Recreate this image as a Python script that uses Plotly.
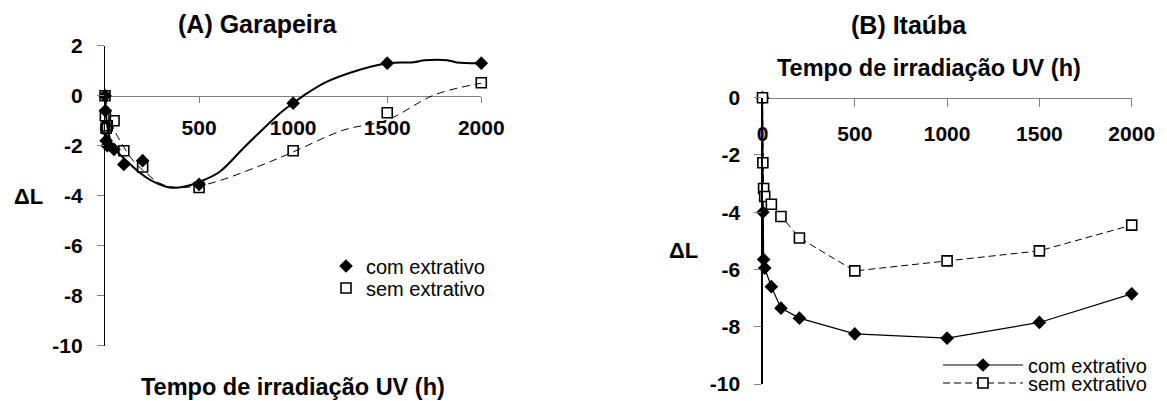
import plotly.graph_objects as go

# ---------------- data ----------------
tempo = [0, 2, 6, 12, 48, 100, 200, 500, 1000, 1500, 2000]
tick_vals = [0, 500, 1000, 1500, 2000]
tick_text = ["0", "500", "1000", "1500", "2000"]
y_ticks_a = [2, 0, -2, -4, -6, -8, -10]
y_text_a = ["2", "0", "-2", "-4", "-6", "-8", "-10"]
y_ticks_b = [0, -2, -4, -6, -8, -10]
y_text_b = ["0", "-2", "-4", "-6", "-8", "-10"]

# (A) Garapeira
gar_com = [0, -0.6, -1.8, -2.0, -2.15, -2.75, -2.6, -3.55, -0.3, 1.3, 1.3]
gar_sem = [0, -0.8, -1.3, -1.2, -1.0, -2.2, -2.85, -3.67, -2.2, -0.68, 0.52]
# smoothed trend curves
gar_com_curve_t = [0, 12, 30, 60, 100, 180, 260, 350, 430, 500, 610, 735, 825,
                   930, 1000, 1075, 1180, 1320, 1500, 1640, 1700, 1820, 1870, 2000]
gar_com_curve_v = [0, -1.2, -1.8, -2.2, -2.5, -3.05, -3.45, -3.68, -3.62, -3.45,
                   -3.04, -2.1, -1.44, -0.7, -0.3, 0.1, 0.56, 0.96, 1.3, 1.34,
                   1.42, 1.42, 1.33, 1.3]
gar_sem_curve_t = [0, 40, 80, 150, 220, 290, 380, 500, 600, 825, 1000, 1270,
                   1500, 1750, 2000]
gar_sem_curve_v = [0, -1.2, -1.8, -2.6, -3.1, -3.5, -3.67, -3.6, -3.42, -2.8,
                   -2.25, -1.37, -0.97, 0.03, 0.5]

# (B) Itauba
ita_com = [0, -4.0, -5.65, -5.95, -6.6, -7.35, -7.7, -8.25, -8.4, -7.85, -6.85]
ita_sem = [0, -2.27, -3.17, -3.45, -3.72, -4.15, -4.9, -6.05, -5.7, -5.35, -4.45]

FONT = "Liberation Sans"
W, H = 1167, 401


def px(x):
    return x / W


def py(y):
    return 1 - y / H


fig = go.Figure()

# ---- panel A ----
fig.add_trace(go.Scatter(x=gar_com_curve_t, y=gar_com_curve_v, mode="lines",
                         line=dict(color="black", width=2, shape="spline", smoothing=1),
                         showlegend=False, xaxis="x", yaxis="y", hoverinfo="skip"))
fig.add_trace(go.Scatter(x=gar_sem_curve_t, y=gar_sem_curve_v, mode="lines",
                         line=dict(color="black", width=1, dash="8px,5px",
                                   shape="spline", smoothing=1),
                         showlegend=False, xaxis="x", yaxis="y", hoverinfo="skip"))
fig.add_trace(go.Scatter(x=tempo, y=gar_com, mode="markers", name="com extrativo",
                         marker=dict(symbol="diamond", size=10.5, color="black"),
                         cliponaxis=False, xaxis="x", yaxis="y", legend="legend"))
fig.add_trace(go.Scatter(x=tempo, y=gar_sem, mode="markers", name="sem extrativo",
                         marker=dict(symbol="square-open", size=10, color="black",
                                     line=dict(width=1.6, color="black")),
                         cliponaxis=False, xaxis="x", yaxis="y", legend="legend2"))

# ---- panel B ----
fig.add_trace(go.Scatter(x=tempo, y=ita_com, mode="lines+markers", name="com extrativo",
                         line=dict(color="black", width=1.2),
                         marker=dict(symbol="diamond", size=10.5, color="black"),
                         cliponaxis=False, xaxis="x2", yaxis="y2", legend="legend3"))
fig.add_trace(go.Scatter(x=tempo, y=ita_sem, mode="lines+markers", name="sem extrativo",
                         line=dict(color="black", width=1, dash="7px,4px"),
                         marker=dict(symbol="square", size=10, color="white",
                                     line=dict(width=1.6, color="black")),
                         cliponaxis=False, xaxis="x2", yaxis="y2", legend="legend4"))

tickfont = dict(family=FONT, size=21, color="black", weight="bold")

common_x = dict(range=[0, 2000], tickvals=tick_vals, ticktext=tick_text,
                showgrid=False, zeroline=False, showline=True, linecolor="#808080",
                linewidth=1.5, ticks="outside", tickcolor="#808080", tickfont=tickfont,
                anchor="free", layer="below traces", fixedrange=True, automargin=False)
common_y = dict(showgrid=False, zeroline=False, showline=True, linecolor="black",
                linewidth=1.2, ticks="outside", ticklen=7, tickcolor="#808080",
                tickfont=tickfont, ticklabelstandoff=10, fixedrange=True,
                automargin=False)

fig.update_layout(
    width=W, height=H, margin=dict(l=0, r=0, t=0, b=0, autoexpand=False),
    paper_bgcolor="white", plot_bgcolor="white",
    font=dict(family=FONT, color="black"),
    hovermode=False,
    xaxis=dict(domain=[px(105), px(481.3)], position=py(95.7), ticklen=6,
               ticklabelstandoff=7, **common_x),
    yaxis=dict(domain=[py(345.7), py(45.7)], range=[-10, 2], tickvals=y_ticks_a,
               ticktext=y_text_a, anchor="x", **common_y),
    xaxis2=dict(domain=[px(762.5), px(1131.7)], position=py(97.7), ticklen=8,
                ticklabelstandoff=9, **common_x),
    yaxis2=dict(domain=[py(384), py(97.7)], range=[-10, 0], tickvals=y_ticks_b,
                ticktext=y_text_b, anchor="x2", **common_y),
)

leg_font = dict(family=FONT, size=20, color="black")
legend_common = dict(font=leg_font, bgcolor="rgba(0,0,0,0)", borderwidth=0,
                     xanchor="left", yanchor="middle")
fig.update_layout(
    legend=dict(x=px(326), y=py(266), itemwidth=30, **legend_common),
    legend2=dict(x=px(326), y=py(288), itemwidth=30, **legend_common),
    legend3=dict(x=px(938), y=py(365), itemwidth=80, **legend_common),
    legend4=dict(x=px(938), y=py(383), itemwidth=80, **legend_common),
)

title_font = dict(family=FONT, size=25, color="black", weight="bold")
axis_title_font = dict(family=FONT, size=23.5, color="black", weight="bold")
dl_font = dict(family=FONT, size=22, color="black", weight="bold")
ann = [
    dict(text="(A) Garapeira", x=px(257), y=py(24), font=title_font),
    dict(text="(B) Itaúba", x=px(909), y=py(25), font=title_font),
    dict(text="Tempo de irradiação UV (h)", x=px(293), y=py(387), font=axis_title_font),
    dict(text="Tempo de irradiação UV (h)", x=px(929), y=py(68), font=axis_title_font),
    dict(text="ΔL", x=px(28), y=py(197), font=dl_font),
    dict(text="ΔL", x=px(683), y=py(250), font=dl_font),
]
for a in ann:
    fig.add_annotation(xref="paper", yref="paper", showarrow=False,
                       xanchor="center", yanchor="middle", **a)

fig.write_html("out.html",
               config=dict(displayModeBar=False, staticPlot=True),
               post_script="document.body.style.margin='0';"
                           "document.documentElement.style.overflow='hidden';")
